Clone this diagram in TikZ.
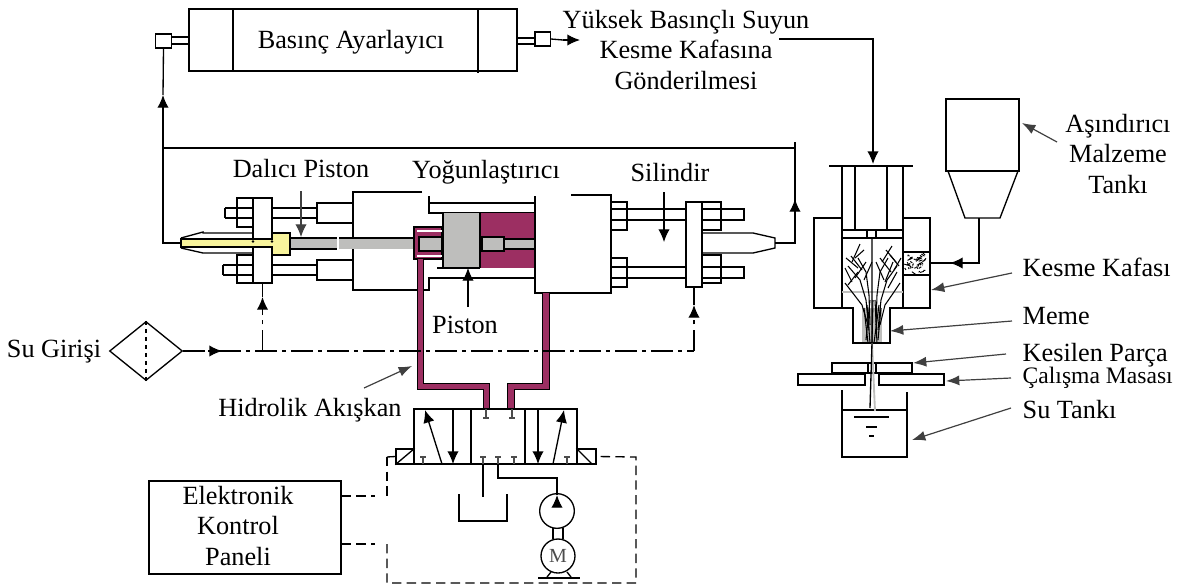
\documentclass[tikz,border=0pt]{standalone}
\usepackage{fontspec}
\setmainfont{Liberation Serif}
\usetikzlibrary{arrows.meta,shapes.geometric}
\definecolor{hidrolik}{HTML}{9C2F62}
\definecolor{sari}{HTML}{F8F49C}
\definecolor{gri}{HTML}{BEBEBC}
\tikzset{
  lbl/.style={inner sep=0pt,font=\fontsize{19.7pt}{23pt}\selectfont},
  okucu/.style={-{Latex[length=9.5pt,width=8.5pt]}},
  isaret/.style={draw=black!75,line width=0.9pt,-{Latex[length=10pt,width=7.5pt]}},
  kutu/.style={draw,inner sep=0pt,fill=white},
  borusu/.style={draw=black,line width=0.9pt,double=hidrolik,double distance=4pt},
  suhatti/.style={dash pattern=on 16pt off 4pt on 3pt off 4pt},
  sinyal/.style={dash pattern=on 7pt off 4pt},
  tee/.style={draw=black!70,line width=0.8pt}
}
\begin{document}
\begin{tikzpicture}[x=0.75pt,y=0.75pt,yscale=-1,xscale=1,line width=1pt]
\useasboundingbox (0,0) rectangle (1190,586);

%Shape: Basinc Ayarlayici
\draw (353,40) node (regAyar) [kutu,minimum width=246pt,minimum height=46.5pt,lbl,draw] {};
\draw (233,9) -- (233,71) ;
\draw (478,9) -- (478,73) ;
\draw (163.5,41) node (portSol) [kutu,minimum width=12pt,minimum height=10.5pt] {};
\draw (542.5,39) node (portSag) [kutu,minimum width=11.5pt,minimum height=10.5pt] {};
\draw (172,37) -- (189,37) (172,44) -- (189,44) ;
\draw (517,38) -- (535,38) (517,44) -- (535,44) ;

%Shape: Sol silindir kapagi
\draw[fill=white] (422,192) -- (353,192) -- (353,290) -- (429,290) -- (429,278) -- (535,278) ;
\draw (429,196) -- (429,213) -- (535,213) ;
\draw (429,203) -- (535,203) ;
\draw (317,203) rectangle (353,223) ;
\draw (317,260) rectangle (353,280) ;
\draw (225,208) -- (253,208) (272,208) -- (317,208) (272,218) -- (317,218) (225,218) -- (253,218) (225,208) -- (225,218) ;
\draw (223,265) -- (253,265) (272,265) -- (317,265) (272,275) -- (317,275) (223,275) -- (253,275) (223,265) -- (223,275) ;
\draw (237,198) rectangle (253,227) ;
\draw (237,255) rectangle (253,283) ;
\draw (262.5,240.5) node (flangeSol) [kutu,minimum width=14.25pt,minimum height=63.75pt] {};
\draw (181,238) -- (203,232) -- (203,233) -- (253,233) ;
\draw (181,248) -- (203,253) -- (253,253) ;

%Shape: Dalici piston
\fill[gri] (290,238) rectangle (418,249) ;
\draw (290,238) -- (418,238) ;
\draw (290,249) -- (337,249) ;
\draw[white,line width=1.2pt] (338,236) -- (338,251) ;
\draw[fill=sari] (181,239) -- (272,239) -- (272,233) -- (290,233) -- (290,255) -- (272,255) -- (272,247) -- (181,247) -- cycle ;
\fill (253,241.5) circle (1pt) (272,241.5) circle (1pt) ;

%Shape: Yogunlastirici
\draw[fill=hidrolik] (414,227) rectangle (442,259) ;
\draw[white,line width=1pt] (417,231) -- (442,231) (417,256) -- (442,256) ;
\draw[fill=gri] (419,237) rectangle (442,251) ;
\fill[hidrolik] (480,213) rectangle (535,268) ;
\draw[fill=gri,draw=none] (443,213) rectangle (480,268) ;
\draw (443,213) -- (443,268) (480,213) -- (480,268) (437,268) -- (480,268) ;
\draw[fill=gri] (482,237) rectangle (504,251) ;
\draw[fill=gri] (504,239) rectangle (535,249) ;

%Shape: Sag silindir kapagi
\fill[white] (535,195) rectangle (611,293) ;
\draw (571,195) -- (611,195) -- (611,293) -- (535,293) -- (535,196) ;
\draw (611,202) rectangle (627,230) ;
\draw (611,258) rectangle (627,287) ;
\draw (611,209) -- (744,209) -- (744,220) -- (611,220) ;
\draw (611,267) -- (744,267) -- (744,278) -- (611,278) ;
\draw (702,202) rectangle (721,230) ;
\draw (702,255) rectangle (721,283) ;
\draw (694,244.5) node (flangeSag) [kutu,minimum width=12pt,minimum height=63.75pt] {};
\draw (702,233) -- (753,233) -- (775,238) -- (775,248) -- (753,253) -- (702,253) ;

%Shape: Hidrolik borular
\draw[borusu] (420.5,259) -- (420.5,386.5) -- (486.5,386.5) -- (486.5,408) ;
\draw[borusu] (546,293) -- (546,386.5) -- (511,386.5) -- (511,408) ;

%Shape: Valf
\draw (498,436.5) node (valfOrta) [kutu,minimum width=40.5pt,minimum height=41.25pt] {};
\draw (414,409) rectangle (471,464) ;
\draw (525,409) rectangle (577,464) ;
\draw (396,464) -- (414,464) (577,464) -- (596,464) ;
\draw (405,456.5) node (bobinSol) [kutu,minimum width=13.5pt,minimum height=11.25pt] {};
\draw (586.5,456.5) node (bobinSag) [kutu,minimum width=14.25pt,minimum height=11.25pt] {};
\draw (bobinSol.south west) -- (bobinSol.north east) ;
\draw (bobinSag.north west) -- (592,464) ;
\draw[okucu] (442,464) -- (425,410) ;
\draw[okucu] (453,409) -- (453,464) ;
\draw[okucu] (538,409) -- (538,464) ;
\draw[okucu] (553,464) -- (564,410) ;
\foreach \tx in {423,567,483,498,514} {
  \draw[tee] (\tx,464) -- (\tx,457) (\tx-3,457) -- (\tx+3,457) ;
}
\foreach \tx in {486,512} {
  \draw[tee] (\tx,409) -- (\tx,418) (\tx-3,418) -- (\tx+3,418) ;
}

%Shape: Tank ve pompa
\draw (459,494) -- (459,521) -- (507,521) -- (507,494) ;
\coordinate (donus) at (483,464);
\draw (donus) -- (483,497) ;
\draw (557,511) node (pompa) [kutu,circle,minimum size=26pt] {};
\draw (558,556) node (motor) [kutu,circle,minimum size=25.5pt,font=\fontsize{15pt}{15pt}\selectfont,text=black!70] {M};
\draw (553,528) -- (553,539) (563,528) -- (563,539) ;
\draw (538,578) -- (580,578) ;
\draw (547,577) -- (551,572) (571,577) -- (567,572) ;
\coordinate (besleme) at (498,464);
\coordinate (pompaUc) at (557,495);
\draw (besleme) -- (498,478) -- (557,478) -- (pompaUc) ;
\draw[okucu] (557,507) -- (pompaUc) ;

%Shape: Kesme kafasi
\coordinate (hatBas) at (779,39);
\coordinate (kafaUst) at (873,164);
\draw (829,166) -- (913,166) ;
\draw (842,166) -- (842,308) ;
\draw (855,166) -- (855,230) ;
\draw (887,166) -- (887,230) ;
\draw (903,166) -- (903,308) ;
\draw (842,230) -- (903,230) (842,238) -- (903,238) ;
\draw (867,230) -- (867,238) (876,230) -- (876,238) ;
\draw (842,218) -- (814,218) -- (814,308) -- (853,308) -- (853,343) -- (890,343) -- (890,308) -- (930,308) -- (930,218) -- (903,218) ;
\draw (903,252) rectangle (930,275) ;
\draw[gri,line width=1.2pt] (842,292) -- (903,292) ;
\fill[gri] (862,308) rectangle (882,343) ;
\draw (853,343) -- (890,343) ;

% parcacik demeti
\foreach \pa/\pb/\pc/\pd/\pe/\pf/\pg/\ph in {
  868/325/862/305/852/292/845/283,
  869/330/866/300/860/280/848/266,
  870/325/869/295/866/272/858/258,
  880/325/885/305/894/292/900/283,
  878/330/881/300/887/280/897/266,
  876/325/877/295/880/272/888/258} {
  \draw[line width=0.8pt] (\pa,\pb) -- (\pc,\pd) -- (\pe,\pf) -- (\pg,\ph) ;
}
\foreach \pa/\pb/\pc/\pd in {
  846/258/858/268, 851/256/862/270, 860/244/852/262, 864/250/855/258,
  845/268/852/282, 848/285/858/272, 855/278/866/262, 864/280/872/262,
  892/246/882/262, 890/255/899/266, 880/258/891/272, 893/262/885/282,
  897/272/888/288, 901/258/894/270, 886/250/896/262, 876/262/884/280,
  864/308/868/343, 867/305/870/343, 870/300/866/340, 875/300/877/343,
  879/305/874/343, 881/308/878/340, 873/300/872/343} {
  \draw[line width=0.8pt] (\pa,\pb) -- (\pc,\pd) ;
}
\pgfmathsetseed{11}
\foreach \i in {1,...,44} {
  \pgfmathsetmacro{\ra}{906+21*rnd}
  \pgfmathsetmacro{\rb}{255+17*rnd}
  \pgfmathsetmacro{\rc}{-4+8*rnd}
  \pgfmathsetmacro{\rd}{-3+6*rnd}
  \draw[line width=0.7pt] (\ra,\rb) -- ++(\rc,\rd) ;
}

%Shape: Asindirici tanki
\draw (982.5,135) node (asTank) [kutu,minimum width=54.75pt,minimum height=54pt] {};
\draw (948,171) -- (965,218) -- (1000,218) -- (1018,171) ;
\coordinate (asGiris) at (930,263);
\coordinate (asBoyun) at (979,218);
\coordinate (asOk) at (950,263);
\draw (asBoyun) -- (979,263) -- (asGiris) ;
\draw[okucu] (963,263) -- (asOk) ;

%Shape: Parca, masa, su tanki
\draw (832,373) -- (832,363) -- (912,363) -- (912,373) -- cycle ;
\draw (868,363) -- (868,373) (876,363) -- (876,373) ;
\draw (798,374) rectangle (865,385) ;
\draw (879,374) rectangle (944,385) ;
\draw (842,390) -- (842,457) -- (907,457) -- (907,392) ;
\draw (842,410) -- (907,410) ;
\draw (854,417) -- (889,417) (866,427) -- (877,427) (869,436) -- (874,436) ;
\draw[gri,line width=1.4pt] (872,343) -- (875,411) ;
\draw (872,238) -- (872,343) -- (870,408) ;

%Straight Lines sebeke
\coordinate (jSol) at (163,148);
\coordinate (jSag) at (795,142);
\coordinate (upSol) at (163,95);
\coordinate (upSag) at (795,199);
\coordinate (noseSol) at (181,243);
\coordinate (noseSag) at (775,243);
\draw (noseSol) -| (jSol) ;
\draw[okucu] (jSol) -- (upSol) ;
\draw (upSol) -- (portSol.south) ;
\draw (jSol) -- (795,148) ;
\draw (noseSag) -| (upSag) ;
\draw[okucu] (795,212) -- (upSag) ;
\draw (upSag) -- (jSag) ;
\coordinate (cikisUc) at (580,40);
\draw (portSag.east) -- (563,40) ;
\draw[okucu] (563,40) -- (cikisUc) ;
\draw (hatBas) -- (873,39) -- (873,150) ;
\draw[okucu] (873,150) -- (kafaUst) ;

%Su hatti
\draw (146,351) node (filtre) [kutu,diamond,minimum width=54.75pt,minimum height=44.25pt] {};
\draw[dashed] (filtre.north) -- (filtre.south) ;
\coordinate (suOk) at (222,351);
\coordinate (jSu) at (262.5,351);
\coordinate (uSol) at (262.5,297);
\coordinate (uSag) at (694,305);
\draw[suhatti] (filtre.east) -- (694,351) ;
\draw[okucu] (208,351) -- (suOk) ;
\draw[suhatti] (jSu) -- (262.5,309) ;
\draw[okucu] (262.5,309) -- (uSol) ;
\draw (uSol) -- (flangeSol.south) ;
\draw[suhatti] (694,351) -- (694,317) ;
\draw[okucu] (694,317) -- (uSag) ;
\draw (uSag) -- (flangeSag.south) ;

%Sinyal hatti
\draw (245,527.5) node (panel) [kutu,minimum width=144pt,minimum height=69.75pt] {};
\coordinate (dUst) at (375,496);
\coordinate (dAlt) at (375,544);
\draw[sinyal] (dUst -| panel.east) -- (dUst) ;
\draw[sinyal] (dAlt -| panel.east) -- (dAlt) ;
\draw (bobinSol.west) -- (387,457) ;
\draw[sinyal] (387,457) -- (387,496) ;
\draw[sinyal] (387,544) -- (387,583) -- (636,583) -- (636,457) -- (bobinSag.east) ;

%Isaret oklari
\draw (301,169) node (lblDalici) [lbl] {Dalıcı Piston};
\draw (486,172) node (lblYog) [lbl] {Yoğunlaştırıcı};
\draw (670,173) node (lblSil) [lbl] {Silindir};
\draw (465,325) node (lblPis) [lbl] {Piston};
\coordinate (daliciUc) at (301,237);
\coordinate (silUc) at (664,242);
\coordinate (pisUc) at (468,268);
\draw[okucu,draw=black!75,line width=0.9pt] (301,191) -- (daliciUc) ;
\draw[okucu,line width=0.9pt] (664,192) -- (silUc) ;
\draw[okucu,line width=0.9pt] (468,307) -- (pisUc) ;
\draw (310,410) node (lblHid) [lbl] {Hidrolik Akışkan};
\coordinate (hidBas) at (364,388);
\coordinate (hidUc) at (412,366);
\draw[isaret] (hidBas) -- (hidUc) ;

% Text Node
\draw (351,42) node (lblAyar) [lbl] {Basınç Ayarlayıcı};
\draw (686,50) node (lblUst) [lbl,align=center] {Yüksek Basınçlı Suyun\\Kesme Kafasına\\Gönderilmesi};
\draw (54,352) node (lblSu) [lbl] {Su Girişi};
\draw (238,526) node (lblPanel) [lbl,align=center] {Elektronik\\Kontrol\\Paneli};
\draw (1118,154) node (lblTank) [lbl,align=center] {Aşındırıcı\\Malzeme\\Tankı};
\draw (1022,267) node (lblKesme) [lbl,anchor=west] {Kesme Kafası};
\draw (1022,316) node (lblMeme) [lbl,anchor=west] {Meme};
\draw (1022,355) node (lblParca) [lbl,anchor=west] {Kesilen Parça};
\draw (1022,378) node (lblMasa) [lbl,anchor=west,font=\fontsize{17.7pt}{20pt}\selectfont] {Çalışma Masası};
\draw (1022,410) node (lblSuT) [lbl,anchor=west] {Su Tankı};

\coordinate (tankBas) at (1057,142);
\coordinate (tankUc) at (1022,123);
\coordinate (kesmeBas) at (1012,273);
\coordinate (kesmeUc) at (931,290);
\coordinate (memeBas) at (1012,321);
\coordinate (memeUc) at (890,331);
\coordinate (parcaBas) at (1006,354);
\coordinate (parcaUc) at (913,363);
\coordinate (masaBas) at (1011,378);
\coordinate (masaUc) at (946,381);
\coordinate (sutBas) at (1011,408);
\coordinate (sutUc) at (912,440);
\draw[isaret] (tankBas) -- (tankUc) ;
\draw[isaret] (kesmeBas) -- (kesmeUc) ;
\draw[isaret] (memeBas) -- (memeUc) ;
\draw[isaret] (parcaBas) -- (parcaUc) ;
\draw[isaret] (masaBas) -- (masaUc) ;
\draw[isaret] (sutBas) -- (sutUc) ;

\end{tikzpicture}
\end{document}
